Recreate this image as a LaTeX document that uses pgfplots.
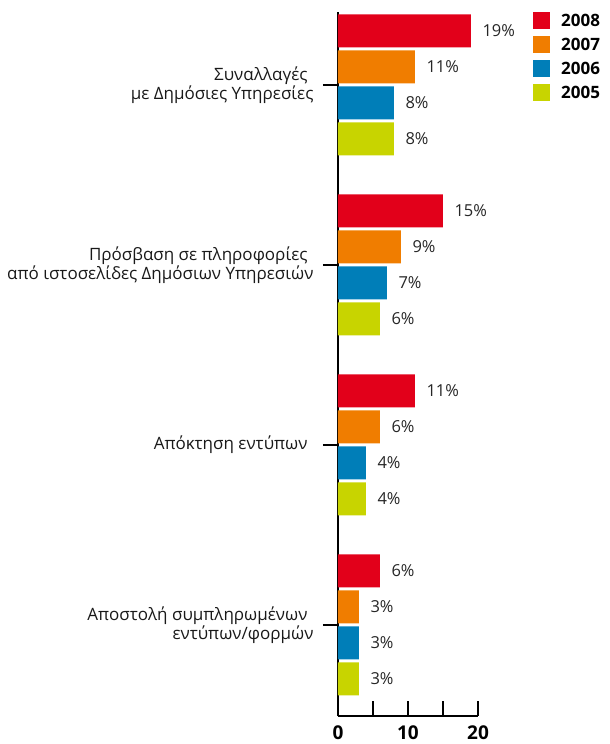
\documentclass[border=0pt]{standalone}
\usepackage{pgfplots}
\pgfplotsset{compat=1.18}
\usepackage{fontspec}
\setmainfont{Open Sans}
\definecolor{c08}{RGB}{226,0,26}
\definecolor{c07}{RGB}{240,125,0}
\definecolor{c06}{RGB}{0,126,184}
\definecolor{c05}{RGB}{200,212,0}
\begin{document}
\begin{tikzpicture}
\useasboundingbox (-338bp,-28bp) rectangle (272bp,716bp);
\begin{axis}[
  scale only axis, width=140bp, height=704bp,
  xmin=0, xmax=20, ymin=28, ymax=732,
  axis lines=left, axis line style={-, black, line width=1.4bp},
  xtick={0,5,10,15,20}, xticklabels={0,,10,,20},
  ytick={659,479,299,119},
  yticklabels={{Συναλλαγές\hspace*{0.35em}\\με Δημόσιες Υπηρεσίες},
               {Πρόσβαση σε πληροφορίες\hspace*{0.35em}\\από ιστοσελίδες Δημόσιων Υπηρεσιών},
               {Απόκτηση εντύπων\hspace*{0.35em}},
               {Αποστολή συμπληρωμένων\hspace*{0.35em}\\εντύπων/φορμών}},
  xtick align=inside, ytick align=outside,
  major tick length=15bp, tick style={black, line width=1.2bp},
  x tick label style={font=\bfseries\fontsize{19bp}{19bp}\selectfont, yshift=-6bp},
  y tick label style={align=right, font=\fontsize{17bp}{19.5bp}\selectfont, xshift=-6bp, text=black!90},
  xbar, bar shift=0pt, bar width=33,
  point meta=x,
  nodes near coords={\pgfmathprintnumber[assume math mode=true]{\pgfplotspointmeta}\%},
  nodes near coords style={anchor=west, xshift=8bp, font=\fontsize{16.5bp}{16.5bp}\selectfont, text=black!85},
  legend style={at={(1.393,1)}, anchor=north west, draw=none, fill=none, inner sep=0pt,
    row sep=7bp, font=\bfseries\fontsize{17bp}{17bp}\selectfont,
    nodes={inner xsep=0pt, inner ysep=0pt, xshift=0bp},
    /tikz/every odd column/.append style={column sep=11bp}},
  legend cell align=left,
  legend image code/.code={\fill[#1,draw=none] (0bp,-8.5bp) rectangle (17bp,8.5bp);},
  clip=false,
]
\addplot[fill=c08, draw=none] coordinates {(19,713) (15,533) (11,353) (6,173)};
\addlegendentry{2008}
\addplot[fill=c07, draw=none] coordinates {(11,677) (9,497) (6,317) (3,137)};
\addlegendentry{2007}
\addplot[fill=c06, draw=none] coordinates {(8,641) (7,461) (4,281) (3,101)};
\addlegendentry{2006}
\addplot[fill=c05, draw=none] coordinates {(8,605) (6,425) (4,245) (3,65)};
\addlegendentry{2005}
\end{axis}
\end{tikzpicture}
\end{document}
